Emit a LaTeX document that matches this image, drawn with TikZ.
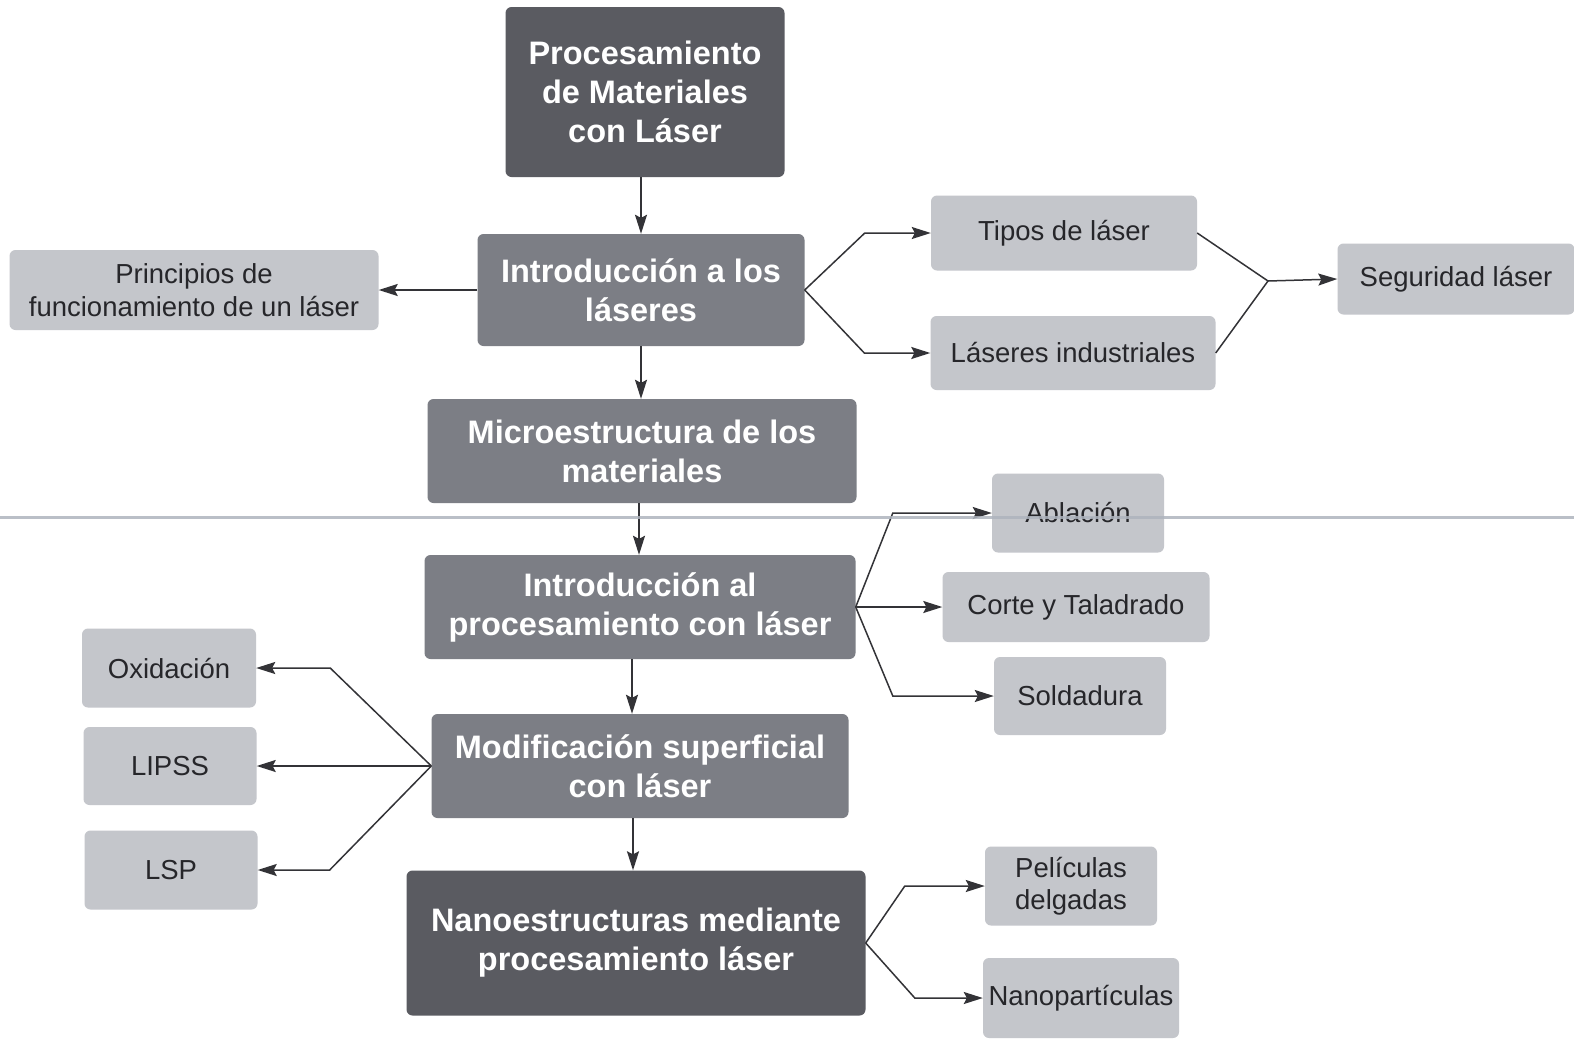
\documentclass[tikz,border=0pt]{standalone}
\usepackage{fontspec}
\setmainfont{Liberation Sans}
\usetikzlibrary{arrows.meta}
\definecolor{darkbox}{HTML}{5A5B61}
\definecolor{midbox}{HTML}{7C7E85}
\definecolor{lightbox}{HTML}{C4C6CB}
\definecolor{linec}{HTML}{333337}
\definecolor{scanline}{HTML}{AEB4BE}
\definecolor{lighttext}{HTML}{26262A}
\begin{document}
\begin{tikzpicture}[x=1pt,y=-1pt,
  box/.style={rounded corners=6pt, inner sep=0pt, align=center},
  darkb/.style={box, fill=darkbox, text=white, font=\fontsize{32.5}{39}\selectfont\bfseries},
  midb/.style={box, fill=midbox, text=white, font=\fontsize{32.5}{39}\selectfont\bfseries},
  lightb/.style={box, fill=lightbox, text=lighttext, font=\fontsize{27.5}{32.5}\selectfont},
  seg/.style={draw=linec, line width=1.5pt},
  conn/.style={seg, -{Stealth[length=19pt,width=12pt,inset=3pt]}}
]
\useasboundingbox[fill=white] (0,0) rectangle (1574,1042);

% main column
\node[darkb, minimum width=279pt, minimum height=170pt] (proc) at (645,92) {Procesamiento\\de Materiales\\con Láser};
\node[midb, minimum width=327pt, minimum height=112pt] (intro) at (641,290) {Introducción a los\\láseres};
\node[midb, minimum width=429pt, minimum height=104pt] (micro) at (642,451) {Microestructura de los\\materiales};
\node[midb, minimum width=431pt, minimum height=104pt] (ip) at (640,607) {Introducción al\\procesamiento con láser};
\node[midb, minimum width=417pt, minimum height=104pt] (modif) at (640,766) {Modificación superficial\\con láser};
\node[darkb, minimum width=459pt, minimum height=145pt] (nano) at (636,943) {Nanoestructuras mediante\\procesamiento láser};

% side boxes
\node[lightb, minimum width=369pt, minimum height=80pt] (princ) at (194,290) {Principios de\\funcionamiento de un láser};
\node[lightb, minimum width=266pt, minimum height=75pt] (tipos) at (1064,233) {Tipos de láser};
\node[lightb, minimum width=285pt, minimum height=74pt] (lind) at (1073,353) {Láseres industriales};
\node[lightb, minimum width=237pt, minimum height=71pt] (segur) at (1456,279) {Seguridad láser};

\node[lightb, minimum width=172pt, minimum height=79pt] (abl) at (1078,513) {Ablación};
\node[lightb, minimum width=267pt, minimum height=70pt] (corte) at (1076,607) {Corte y Taladrado};
\node[lightb, minimum width=172pt, minimum height=78pt] (sold) at (1080,696) {Soldadura};

\node[lightb, minimum width=174pt, minimum height=79pt] (oxi) at (169,668) {Oxidación};
\node[lightb, minimum width=173pt, minimum height=78pt] (lipss) at (170,766) {LIPSS};
\node[lightb, minimum width=173pt, minimum height=79pt] (lsp) at (171,870) {LSP};

\node[lightb, minimum width=172pt, minimum height=79pt] (pel) at (1071,886) {Películas\\delgadas};
\node[lightb, minimum width=196pt, minimum height=80pt] (nanop) at (1081,998) {Nanopartículas};

% vertical connectors
\draw[conn] (intro.north |- proc.south) -- (intro.north);
\draw[conn] (intro.south) -- (intro.south |- micro.north);
\draw[conn] ([xshift=-3pt]micro.south) -- ([xshift=-1pt]ip.north);
\draw[conn] ([xshift=-8pt]ip.south) -- ([xshift=-8pt]modif.north);
\draw[conn] ([xshift=-7pt]modif.south) -- ([xshift=-3pt]nano.north);

% intro branches
\draw[conn] (intro.west) -- (princ.east);
\draw[conn] (intro.east) -- ([xshift=-66pt]tipos.west) -- (tipos.west);
\draw[conn] (intro.east) -- ([xshift=-66pt]lind.west) -- (lind.west);
\coordinate (merge) at (1268,281);
\draw[seg] (tipos.east) -- (merge);
\draw[seg] (lind.east) -- (merge);
\draw[conn] (merge) -- (segur.west);

% processing branches
\draw[conn] (ip.east) -- ([xshift=-99pt]abl.west) -- (abl.west);
\draw[conn] (ip.east) -- (corte.west);
\draw[conn] (ip.east) -- ([xshift=-101pt]sold.west) -- (sold.west);

% modification branches
\draw[conn] (modif.west) -- ([xshift=74pt]oxi.east) -- (oxi.east);
\draw[conn] (modif.west) -- (lipss.east);
\draw[conn] (modif.west) -- ([xshift=72pt]lsp.east) -- (lsp.east);

% nano branches
\draw[conn] (nano.east) -- ([xshift=-80pt]pel.west) -- (pel.west);
\draw[conn] (nano.east) -- ([xshift=-68pt]nanop.west) -- (nanop.west);

% scan line across the page
\draw[scanline, line width=3pt, opacity=0.85] (0,517) -- (1574,517);
\end{tikzpicture}
\end{document}
